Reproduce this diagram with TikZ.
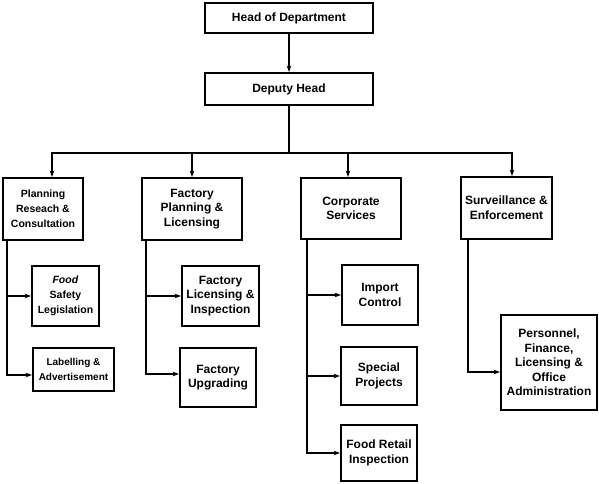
\documentclass[tikz,border=0pt]{standalone}
\usepackage{fontspec}
\setmainfont{Liberation Sans}
\usetikzlibrary{arrows.meta,positioning,calc}

\begin{document}
\begin{tikzpicture}[x=1pt,y=-1pt,
  unit/.style={draw,line width=1.8pt,align=center,inner sep=0pt,
               font=\fontsize{12}{14.6}\selectfont\bfseries},
  smallunit/.style={unit,font=\fontsize{10.5}{15}\selectfont\bfseries},
  link/.style={line width=1.8pt,-{Stealth[length=6.5pt,width=4.5pt,inset=2pt]}}]
\useasboundingbox (0,0) rectangle (599,483);
% top of the chart
\node[unit,minimum width=168,minimum height=30] (head) at (289,18) {Head of Department};
\node[unit,minimum width=168,minimum height=32] (deputy) at (289,89) {Deputy Head};
% divisions
\node[smallunit,minimum width=80,minimum height=62] (plan) at (43,209) {Planning\\Reseach \&\\Consultation};
\node[unit,minimum width=100,minimum height=62] (fplan) at (192,209) {Factory\\Planning \&\\Licensing};
\node[unit,minimum width=100,minimum height=61] (corp) at (351,208.5) {Corporate\\Services};
\node[unit,minimum width=91,minimum height=62] (surv) at (506.5,208) {Surveillance \&\\Enforcement};
% sections
\node[smallunit,minimum width=67,minimum height=60] (food) at (65.5,296) {\textit{Food}\\Safety\\Legislation};
\node[smallunit,minimum width=81,minimum height=43,font=\fontsize{10}{15}\selectfont\bfseries] (label) at (73.5,369.5) {Labelling \&\\Advertisement};
\node[unit,minimum width=77,minimum height=60] (flic) at (220.5,296) {Factory\\Licensing \&\\Inspection};
\node[unit,minimum width=76,minimum height=59] (fupg) at (218,377.5) {Factory\\Upgrading};
\node[unit,minimum width=76,minimum height=60] (import) at (380,295) {Import\\Control};
\node[unit,minimum width=76,minimum height=58] (special) at (379,376) {Special\\Projects};
\node[unit,minimum width=76,minimum height=56] (retail) at (379,453) {Food Retail\\Inspection};
\node[unit,minimum width=96,minimum height=95] (pers) at (549,362.5) {Personnel,\\Finance,\\Licensing \&\\Office\\Administration};
% head to deputy
\draw[link] (head) -- (deputy);
% deputy to the divisions
\draw[link] (deputy.south) -- ++(0,47) -| ([xshift=9pt]plan.north);
\draw[link] (deputy.south) -- ++(0,47) -| (fplan.north);
\draw[link] (deputy.south) -- ++(0,47) -| ([xshift=-3pt]corp.north);
\draw[link] (deputy.south) -- ++(0,47) -| ([xshift=5.5pt]surv.north);
% divisions to sections
\draw[link] ([xshift=5pt]plan.south west) |- (food.west);
\draw[link] ([xshift=5pt]plan.south west) |- ([yshift=-5.5pt]label.west);
\draw[link] ([xshift=5pt]fplan.south west) |- (flic.west);
\draw[link] ([xshift=5pt]fplan.south west) |- ([yshift=3.5pt]fupg.west);
\draw[link] ([xshift=7pt]corp.south west) |- (import.west);
\draw[link] ([xshift=7pt]corp.south west) |- (special.west);
\draw[link] ([xshift=7pt]corp.south west) |- (retail.west);
\draw[link] ([xshift=8pt]surv.south west) |- ([yshift=-9.5pt]pers.west);
\end{tikzpicture}
\end{document}
